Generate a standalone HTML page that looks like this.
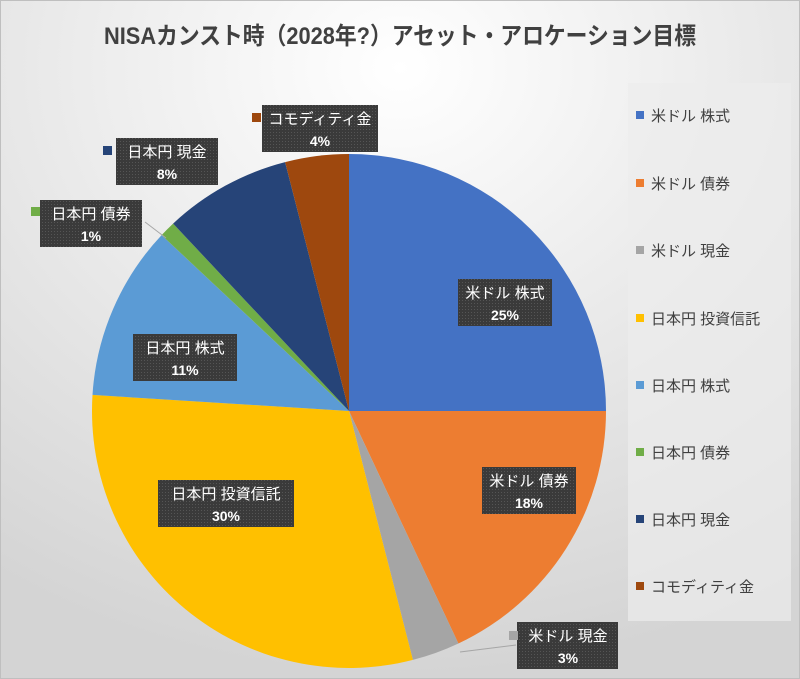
<!DOCTYPE html>
<html><head><meta charset="utf-8"><style>
html,body{margin:0;padding:0;width:800px;height:679px;overflow:hidden}
svg{display:block}
text{font-family:"Liberation Sans","Noto Sans CJK JP",sans-serif}
</style></head><body>
<svg width="800" height="679" viewBox="0 0 800 679" xmlns="http://www.w3.org/2000/svg">
<defs>
<radialGradient id="bg" cx="0.5" cy="0.1" r="0.9">
<stop offset="0" stop-color="#ffffff"/><stop offset="1" stop-color="#d4d4d4"/>
</radialGradient>
<pattern id="dots" width="3" height="3" patternUnits="userSpaceOnUse">
<rect width="3" height="3" fill="#3a3a3a"/><rect width="1" height="1" fill="#555"/>
</pattern>
</defs>
<rect x="0" y="0" width="800" height="679" fill="url(#bg)"/>
<rect x="0.5" y="0.5" width="799" height="678" fill="none" stroke="#bfbfbf"/>
<rect x="628" y="83" width="163" height="538" fill="#ececec" opacity="0.7"/>
<text x="400" y="44" text-anchor="middle" font-size="24" font-weight="bold" fill="#404040" textLength="592" lengthAdjust="spacingAndGlyphs">NISAカンスト時（2028年?）アセット・アロケーション目標</text>
<g>
<path d="M349,411 L349,154 A257,257 0 0 1 606,411 Z" fill="#4472c4"/>
<path d="M349,411 L606,411 A257,257 0 0 1 458.4,643.5 Z" fill="#ed7d31"/>
<path d="M349,411 L458.4,643.5 A257,257 0 0 1 412.9,659.9 Z" fill="#a5a5a5"/>
<path d="M349,411 L412.9,659.9 A257,257 0 0 1 92.5,394.9 Z" fill="#ffc000"/>
<path d="M349,411 L92.5,394.9 A257,257 0 0 1 161.6,235.1 Z" fill="#5b9bd5"/>
<path d="M349,411 L161.6,235.1 A257,257 0 0 1 173.1,223.6 Z" fill="#70ad47"/>
<path d="M349,411 L173.1,223.6 A257,257 0 0 1 285.1,162.1 Z" fill="#264478"/>
<path d="M349,411 L285.1,162.1 A257,257 0 0 1 349,154 Z" fill="#9e480e"/>
</g>
<line x1="145" y1="222" x2="166" y2="238" stroke="#a6a6a6" stroke-width="1"/>
<line x1="516" y1="645" x2="460" y2="652" stroke="#a6a6a6" stroke-width="1"/>
<g font-size="15" fill="#fff" text-anchor="middle">
<rect x="262" y="105" width="116" height="47" fill="url(#dots)"/><rect x="252" y="113" width="9" height="9" fill="#9e480e"/>
<text x="320" y="124">コモディティ金</text><text x="320" y="146" font-weight="bold" font-size="14">4%</text>
<rect x="116" y="138" width="102" height="47" fill="url(#dots)"/><rect x="103" y="146" width="9" height="9" fill="#264478"/>
<text x="167" y="157">日本円 現金</text><text x="167" y="179" font-weight="bold" font-size="14">8%</text>
<rect x="40" y="200" width="102" height="47" fill="url(#dots)"/><rect x="31" y="207" width="9" height="9" fill="#70ad47"/>
<text x="91" y="219">日本円 債券</text><text x="91" y="241" font-weight="bold" font-size="14">1%</text>
<rect x="458" y="279" width="94" height="47" fill="url(#dots)"/>
<text x="505" y="298">米ドル 株式</text><text x="505" y="320" font-weight="bold" font-size="14">25%</text>
<rect x="133" y="334" width="104" height="47" fill="url(#dots)"/>
<text x="185" y="353">日本円 株式</text><text x="185" y="375" font-weight="bold" font-size="14">11%</text>
<rect x="158" y="480" width="136" height="47" fill="url(#dots)"/>
<text x="226" y="499">日本円 投資信託</text><text x="226" y="521" font-weight="bold" font-size="14">30%</text>
<rect x="482" y="467" width="94" height="47" fill="url(#dots)"/>
<text x="529" y="486">米ドル 債券</text><text x="529" y="508" font-weight="bold" font-size="14">18%</text>
<rect x="517" y="622" width="101" height="47" fill="url(#dots)"/><rect x="509" y="631" width="9" height="9" fill="#a5a5a5"/>
<text x="568" y="641">米ドル 現金</text><text x="568" y="663" font-weight="bold" font-size="14">3%</text>
</g>
<g font-size="15" fill="#404040">
<rect x="636" y="111" width="8" height="8" fill="#4472c4"/><text x="651" y="121">米ドル 株式</text>
<rect x="636" y="179" width="8" height="8" fill="#ed7d31"/><text x="651" y="189">米ドル 債券</text>
<rect x="636" y="246" width="8" height="8" fill="#a5a5a5"/><text x="651" y="256">米ドル 現金</text>
<rect x="636" y="314" width="8" height="8" fill="#ffc000"/><text x="651" y="324">日本円 投資信託</text>
<rect x="636" y="381" width="8" height="8" fill="#5b9bd5"/><text x="651" y="391">日本円 株式</text>
<rect x="636" y="448" width="8" height="8" fill="#70ad47"/><text x="651" y="458">日本円 債券</text>
<rect x="636" y="515" width="8" height="8" fill="#264478"/><text x="651" y="525">日本円 現金</text>
<rect x="636" y="582" width="8" height="8" fill="#9e480e"/><text x="651" y="592">コモディティ金</text>
</g>
</svg>
</body></html>
